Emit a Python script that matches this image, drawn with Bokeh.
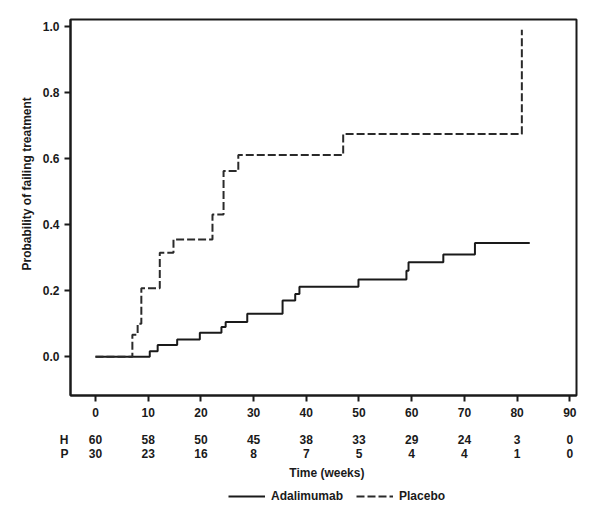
from bokeh.plotting import figure
from bokeh.models import Range1d, FixedTicker, Legend, LegendItem, Title, ColumnDataSource
from bokeh.layouts import column
from bokeh.core.properties import value
from bokeh.embed import file_html
from bokeh.resources import INLINE

# ---- data ----
ada_time = [0, 10.3, 11.8, 15.5, 19.8, 23.9, 24.7, 28.8, 35.5, 37.9, 38.7, 49.9, 59.0, 59.4, 66.0, 72.0, 82.4]
ada_prob = [0.0, 0.017, 0.036, 0.052, 0.073, 0.090, 0.105, 0.130, 0.170, 0.190, 0.212, 0.234, 0.260, 0.286, 0.309, 0.344, 0.344]
pla_time = [0, 7.0, 8.0, 8.7, 12.2, 14.8, 22.2, 24.3, 27.1, 47.0, 80.9]
pla_prob = [0.0, 0.067, 0.100, 0.207, 0.315, 0.355, 0.430, 0.562, 0.610, 0.674, 0.989]

x_ticks = [0, 10, 20, 30, 40, 50, 60, 70, 80, 90]
y_ticks = [0.0, 0.2, 0.4, 0.6, 0.8, 1.0]
y_tick_labels = ["0.0", "0.2", "0.4", "0.6", "0.8", "1.0"]
risk_h = [60, 58, 50, 45, 38, 33, 29, 24, 3, 0]
risk_p = [30, 23, 16, 8, 7, 5, 4, 4, 1, 0]
row_names = ["H", "P"]

FONT = "Liberation Sans"
INK = "#1a1a1a"
W = 603
FRAME_L, FRAME_R = 70, 27

xr = Range1d(-4.74, 91.27)

# ---------------- main plot ----------------
p = figure(width=W, height=423, output_backend="svg", toolbar_location=None,
           x_range=xr, y_range=Range1d(-0.117, 1.02),
           min_border_left=FRAME_L, min_border_right=FRAME_R, min_border_top=19,
           min_border_bottom=28)
p.grid.visible = False
p.outline_line_color = INK
p.outline_line_width = 2
p.background_fill_color = "white"
p.border_fill_color = "white"

for ax in (p.xaxis[0], p.yaxis[0]):
    ax.axis_line_color = INK
    ax.axis_line_width = 2
    ax.major_tick_line_color = INK
    ax.major_tick_line_width = 2
    ax.major_tick_out = 6
    ax.major_tick_in = 0
    ax.minor_tick_line_color = None
    ax.major_label_text_font = FONT
    ax.major_label_text_font_style = "bold"
    ax.major_label_text_font_size = "12px"
    ax.major_label_text_color = INK

p.xaxis.ticker = FixedTicker(ticks=x_ticks)
p.xaxis.major_label_standoff = 6
p.yaxis.ticker = FixedTicker(ticks=y_ticks)
p.yaxis.major_label_overrides = {t: s for t, s in zip(y_ticks, y_tick_labels)}
p.yaxis.major_label_standoff = 5

p.add_layout(Title(text="Probability of failing treatment", text_font=FONT,
                   text_font_style="bold", text_font_size="12px", text_color=INK,
                   align="left", offset=125, standoff=12), "left")

p.step(ada_time, ada_prob, mode="after", line_color=INK, line_width=2)
p.step(pla_time, pla_prob, mode="after", line_color="#2a2a2a", line_width=2,
       line_dash="8 3")

# ---------------- risk table + legend ----------------
H2 = 94
row_y = [16, 30]
b = figure(width=W, height=H2, output_backend="svg", toolbar_location=None,
           x_range=xr, y_range=Range1d(H2, 0), x_axis_type=None,
           min_border_left=FRAME_L, min_border_right=FRAME_R,
           min_border_top=0, min_border_bottom=0)
b.grid.visible = False
b.outline_line_color = None
b.background_fill_color = "white"
b.border_fill_color = "white"
yb = b.yaxis[0]
yb.ticker = FixedTicker(ticks=row_y)
yb.major_label_overrides = {y: n for y, n in zip(row_y, row_names)}
yb.axis_line_color = None
yb.major_tick_line_color = None
yb.minor_tick_line_color = None
yb.major_tick_out = 0
yb.major_tick_in = 0
yb.major_label_standoff = 2
yb.major_label_text_font = FONT
yb.major_label_text_font_style = "bold"
yb.major_label_text_font_size = "12px"
yb.major_label_text_color = INK

tab = ColumnDataSource(dict(
    x=x_ticks + x_ticks,
    y=[row_y[0]] * len(x_ticks) + [row_y[1]] * len(x_ticks),
    t=[str(v) for v in risk_h] + [str(v) for v in risk_p]))
common = dict(text_font=value(FONT), text_font_style="bold", text_font_size="12px",
              text_color=INK, text_baseline="middle")
b.text(x="x", y="y", text="t", source=tab, text_align="center", **common)
b.text(x=[43.9], y=[49], text=["Time (weeks)"], text_align="center", **common)

nan = float("nan")
l_ada = b.line([nan], [nan], line_color=INK, line_width=2)
l_pla = b.line([nan], [nan], line_color="#2a2a2a", line_width=2, line_dash="8 3")
legend = Legend(items=[LegendItem(label="Adalimumab", renderers=[l_ada]),
                       LegendItem(label="Placebo", renderers=[l_pla])],
                orientation="horizontal", location=(158, 11),
                glyph_width=37, label_standoff=6, spacing=13, padding=0, margin=0,
                border_line_color=None, background_fill_alpha=0,
                label_text_font=FONT, label_text_font_style="bold",
                label_text_font_size="12px", label_text_color=INK)
b.add_layout(legend, "center")

layout = column(p, b, spacing=0)
open("out.html", "w").write(file_html(layout, INLINE))
